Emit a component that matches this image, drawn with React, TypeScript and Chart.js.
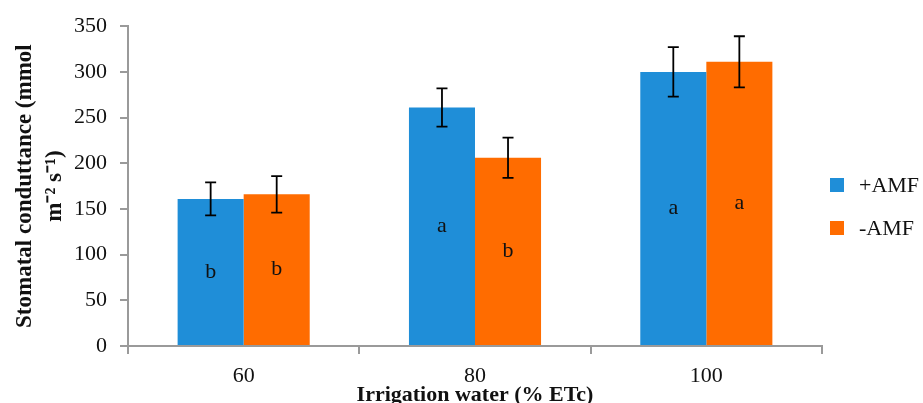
import React, { useEffect, useRef } from "react";
import { Chart, registerables } from "chart.js";

Chart.register(...registerables);

// Irrigation levels (% ETc)
const categories = ["60", "80", "100"];

// Mean stomatal conductance (mmol m-2 s-1)
const plusAMF = [161, 261, 300];
const minusAMF = [166, 206, 311];

// Standard errors
const plusAMFErr = [18, 21, 27];
const minusAMFErr = [20, 22, 28];

// Significance letters
const plusAMFLetters = ["b", "a", "a"];
const minusAMFLetters = ["b", "b", "a"];

// Y axis ticks
const yTicks = [0, 50, 100, 150, 200, 250, 300, 350];

const seriesNames = ["+AMF", "-AMF"];
const seriesColors = ["#1F8ED8", "#FF6C00"];

const FONT = "'Liberation Serif', 'Times New Roman', serif";
const errors = [plusAMFErr, minusAMFErr];
const letters = [plusAMFLetters, minusAMFLetters];

const errorBars = {
  id: "errorBars",
  afterDatasetsDraw(chart: any) {
    const { ctx } = chart;
    const y = chart.scales.y;
    ctx.save();
    ctx.strokeStyle = "#000";
    ctx.lineWidth = 1.8;
    chart.data.datasets.forEach((ds: any, i: number) => {
      const meta = chart.getDatasetMeta(i);
      meta.data.forEach((bar: any, j: number) => {
        const v = ds.data[j];
        const e = errors[i][j];
        const top = y.getPixelForValue(v + e);
        const bot = y.getPixelForValue(v - e);
        const cap = 5.5;
        ctx.beginPath();
        ctx.moveTo(bar.x, top);
        ctx.lineTo(bar.x, bot);
        ctx.moveTo(bar.x - cap, top);
        ctx.lineTo(bar.x + cap, top);
        ctx.moveTo(bar.x - cap, bot);
        ctx.lineTo(bar.x + cap, bot);
        ctx.stroke();
      });
    });
    ctx.restore();
  },
};

const barLetters = {
  id: "barLetters",
  afterDatasetsDraw(chart: any) {
    const { ctx } = chart;
    ctx.save();
    ctx.fillStyle = "#111";
    ctx.font = `22px ${FONT}`;
    ctx.textAlign = "center";
    ctx.textBaseline = "middle";
    chart.data.datasets.forEach((_ds: any, i: number) => {
      const meta = chart.getDatasetMeta(i);
      meta.data.forEach((bar: any, j: number) => {
        ctx.fillText(letters[i][j], bar.x, (bar.y + bar.base) / 2);
      });
    });
    ctx.restore();
  },
};

const sideKey = {
  id: "sideKey",
  afterDraw(chart: any) {
    const { ctx, chartArea } = chart;
    const x0 = chartArea.right + 8;
    const midY = chart.height / 2 + 5;
    const gap = 43;
    ctx.save();
    ctx.font = `22px ${FONT}`;
    ctx.textBaseline = "middle";
    ctx.textAlign = "left";
    chart.data.datasets.forEach((ds: any, i: number) => {
      const cy = midY + (i - (chart.data.datasets.length - 1) / 2) * gap;
      ctx.fillStyle = ds.backgroundColor;
      ctx.fillRect(x0, cy - 7, 14, 14);
      ctx.fillStyle = "#111";
      ctx.fillText(ds.label, x0 + 29, cy + 1);
    });
    ctx.restore();
  },
};

export default function App() {
  const canvasRef = useRef<HTMLCanvasElement | null>(null);

  useEffect(() => {
    document.body.style.margin = "0";
    const canvas = canvasRef.current;
    if (!canvas) return;
    const axisColor = "#9a9a9a";
    const chart = new Chart(canvas, {
      type: "bar",
      data: {
        labels: categories,
        datasets: [
          {
            label: seriesNames[0],
            data: plusAMF,
            backgroundColor: seriesColors[0],
            categoryPercentage: 0.571,
            barPercentage: 1,
          },
          {
            label: seriesNames[1],
            data: minusAMF,
            backgroundColor: seriesColors[1],
            categoryPercentage: 0.571,
            barPercentage: 1,
          },
        ],
      },
      options: {
        animation: false,
        responsive: true,
        maintainAspectRatio: false,
        layout: { padding: { top: 25, right: 101, left: 0, bottom: 0 } },
        plugins: {
          legend: { display: false },
          tooltip: { enabled: false },
        },
        scales: {
          x: {
            grid: {
              display: true,
              drawOnChartArea: false,
              drawTicks: true,
              tickLength: 8,
              color: axisColor,
              lineWidth: 2,
              offset: true,
            },
            border: { display: true, color: axisColor, width: 2 },
            ticks: {
              color: "#111",
              font: { family: FONT, size: 22 },
              padding: 9,
            },
            title: {
              display: true,
              text: "Irrigation water (% ETc)",
              color: "#111",
              font: { family: FONT, size: 22, weight: "bold" },
              padding: { top: 0, bottom: -6 },
            },
            afterFit: (scale: any) => {
              scale.height = 57;
            },
          },
          y: {
            min: 0,
            max: 350,
            afterBuildTicks: (scale: any) => {
              scale.ticks = yTicks.map((v) => ({ value: v }));
            },
            grid: {
              display: true,
              drawOnChartArea: false,
              drawTicks: true,
              tickLength: 8,
              color: axisColor,
              lineWidth: 2,
            },
            border: { display: true, color: axisColor, width: 2 },
            ticks: {
              color: "#111",
              font: { family: FONT, size: 22 },
              padding: 13,
            },
            title: {
              display: true,
              text: ["Stomatal conduttance (mmol", "m\u207B\u00B2 s\u207B\u00B9)"],
              color: "#111",
              font: { family: FONT, size: 23, weight: "bold", lineHeight: 1.3 },
              padding: { top: 10, bottom: 0 },
            },
            afterFit: (scale: any) => {
              scale.width = 128;
            },
          },
        },
      },
      plugins: [errorBars, barLetters, sideKey],
    });
    return () => chart.destroy();
  }, []);

  return (
    <div style={{ position: "relative", width: "923px", height: "403px" }}>
      <canvas ref={canvasRef} />
    </div>
  );
}
